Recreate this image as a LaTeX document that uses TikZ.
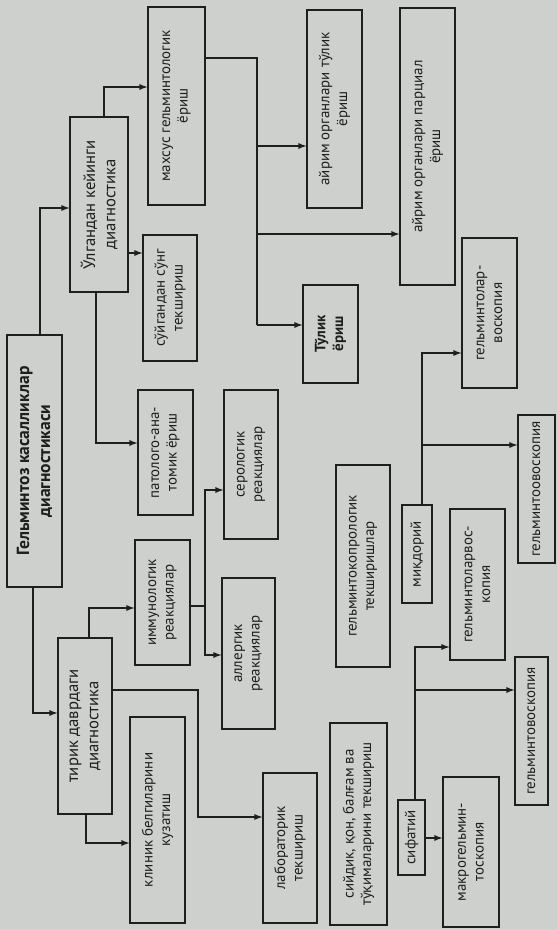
\documentclass[tikz,border=0pt]{standalone}
\usepackage{fontspec}
\setmainfont{PT Sans}
\usepackage{tikz}
\tikzset{>=latex}
\definecolor{qogoz}{RGB}{206,208,206}
\definecolor{siyoh}{RGB}{30,30,30}
\tikzset{blok/.style={draw=siyoh, text=siyoh, rotate=90, line width=0.7pt, align=center, inner sep=1pt, font=\fontsize{8.5}{10}\selectfont},
  ulash/.style={draw=siyoh, line width=0.6pt}}

\begin{document}
\begin{tikzpicture}[x=0.02cm,y=-0.02cm]
\fill[qogoz] (0,0) rectangle (557,929);
\useasboundingbox (0,0) rectangle (557,929);
% asosiy bloklar
\node[blok, minimum width=5.04cm, minimum height=1.10cm, font=\bfseries\fontsize{10}{12}\selectfont] (glav) at (34.5,461) {Гельминтоз касалликлар\\диагностикаси};
\node[blok, minimum width=3.50cm, minimum height=1.16cm, font=\fontsize{9.5}{11.5}\selectfont] (olgan) at (99,204.5) {Ўлгандан кейинги\\диагностика};
\node[blok, minimum width=3.52cm, minimum height=1.08cm, font=\fontsize{9.5}{11.5}\selectfont] (tirik) at (85,726) {тирик даврдаги\\диагностика};
% ўлгандан кейин
\node[blok, minimum width=3.96cm, minimum height=1.14cm] (maxsus) at (176.5,106) {махсус гельминтологик\\ёриш};
\node[blok, minimum width=2.52cm, minimum height=1.08cm] (soygan) at (170,298) {сўйгандан сўнг\\текшириш};
\node[blok, minimum width=2.50cm, minimum height=1.10cm] (pato) at (165.5,452.5) {патолого-ана-\\томик ёриш};
\node[blok, minimum width=3.96cm, minimum height=1.10cm] (tulik) at (334.5,109) {айрим органлари тўлик\\ёриш};
\node[blok, minimum width=1.96cm, minimum height=1.10cm, font=\bfseries\fontsize{8.5}{10}\selectfont] (tulikb) at (330.5,334) {Тўлик\\ёриш};
\node[blok, minimum width=5.54cm, minimum height=1.10cm] (parcial) at (427.5,146.5) {айрим органлари парциал\\ёриш};
\node[blok, minimum width=3.00cm, minimum height=1.10cm] (larvosa) at (489.5,313) {гельминтолар-\\воскопия};
% тирик даврда
\node[blok, minimum width=2.50cm, minimum height=1.10cm] (immun) at (162.5,602.5) {иммунологик\\реакциялар};
\node[blok, minimum width=2.98cm, minimum height=1.08cm] (sero) at (251,464.5) {серологик\\реакциялар};
\node[blok, minimum width=3.02cm, minimum height=1.06cm] (allerg) at (248.5,653.5) {аллергик\\реакциялар};
\node[blok, minimum width=4.12cm, minimum height=1.10cm] (klinik) at (157.5,820) {клиник белгиларини\\кузатиш};
\node[blok, minimum width=3.00cm, minimum height=1.08cm] (labor) at (290,848) {лабораторик\\текшириш};
\node[blok, minimum width=4.04cm, minimum height=1.14cm] (siydik) at (358.5,824) {сийдик, қон, балғам ва\\тўқималарини текшириш};
\node[blok, minimum width=4.04cm, minimum height=1.08cm] (kopro) at (363,566) {гельминтокопрологик\\текширишлар};
\node[blok, minimum width=1.50cm, minimum height=0.54cm] (sifat) at (411.5,837.5) {сифатий};
\node[blok, minimum width=1.96cm, minimum height=0.60cm] (miqdor) at (417,554) {миқдорий};
\node[blok, minimum width=3.00cm, minimum height=1.12cm] (makro) at (471,852) {макрогельмин-\\тоскопия};
\node[blok, minimum width=3.02cm, minimum height=1.10cm] (larvosb) at (477.5,584.5) {гельминтоларвос-\\копия};
\node[blok, minimum width=2.96cm, minimum height=0.74cm] (ovos) at (536.5,489) {гельминтоовоскопия};
\node[blok, minimum width=2.96cm, minimum height=0.66cm] (vos) at (531.5,731) {гельминтовоскопия};
% боғланишлар
\draw[ulash,->] (glav.east -| 40,0) -- (40,208) -- (olgan.north |- 0,208);
\draw[ulash,->] (glav.west -| 33,0) -- (33,713) -- (tirik.north |- 0,713);
\draw[ulash,->] (olgan.east -| 104,0) -- (104,87) -- (maxsus.north |- 0,87);
\draw[ulash,->] (olgan.south |- 0,253) -- (soygan.north |- 0,253);
\draw[ulash,->] (olgan.west -| 96,0) -- (96,443) -- (pato.north |- 0,443);
\coordinate (bus) at (257,58);
\draw[ulash] (maxsus.south |- bus) -- (bus) -- (257,325);
\draw[ulash,->] (257,146) -- (tulik.north |- 0,146);
\draw[ulash,->] (257,234) -- (parcial.north |- 0,234);
\draw[ulash,->] (257,325) -- (tulikb.north |- 0,325);
\draw[ulash,->] (tirik.east -| 89,0) -- (89,608) -- (immun.north |- 0,608);
\coordinate (imm) at (205,606);
\draw[ulash] (immun.south |- imm) -- (imm);
\draw[ulash,->] (imm) |- (sero.north |- 0,490);
\draw[ulash,->] (imm) |- (allerg.north |- 0,655);
\draw[ulash,->] (tirik.south |- 0,690) -| (198,817) -- (labor.north |- 0,817);
\draw[ulash,->] (tirik.west -| 86,0) -- (86,843) -- (klinik.north |- 0,843);
\draw[ulash,->] (sifat.east -| 415,0) -- (415,647) -- (larvosb.north |- 0,647);
\draw[ulash,->] (415,690) -- (vos.north |- 0,690);
\draw[ulash,->] (sifat.south |- 0,838) -- (makro.north |- 0,838);
\draw[ulash,->] (miqdor.east -| 422,0) -- (422,353) -- (larvosa.north |- 0,353);
\draw[ulash,->] (422,445) -- (ovos.north |- 0,445);
\end{tikzpicture}
\end{document}
